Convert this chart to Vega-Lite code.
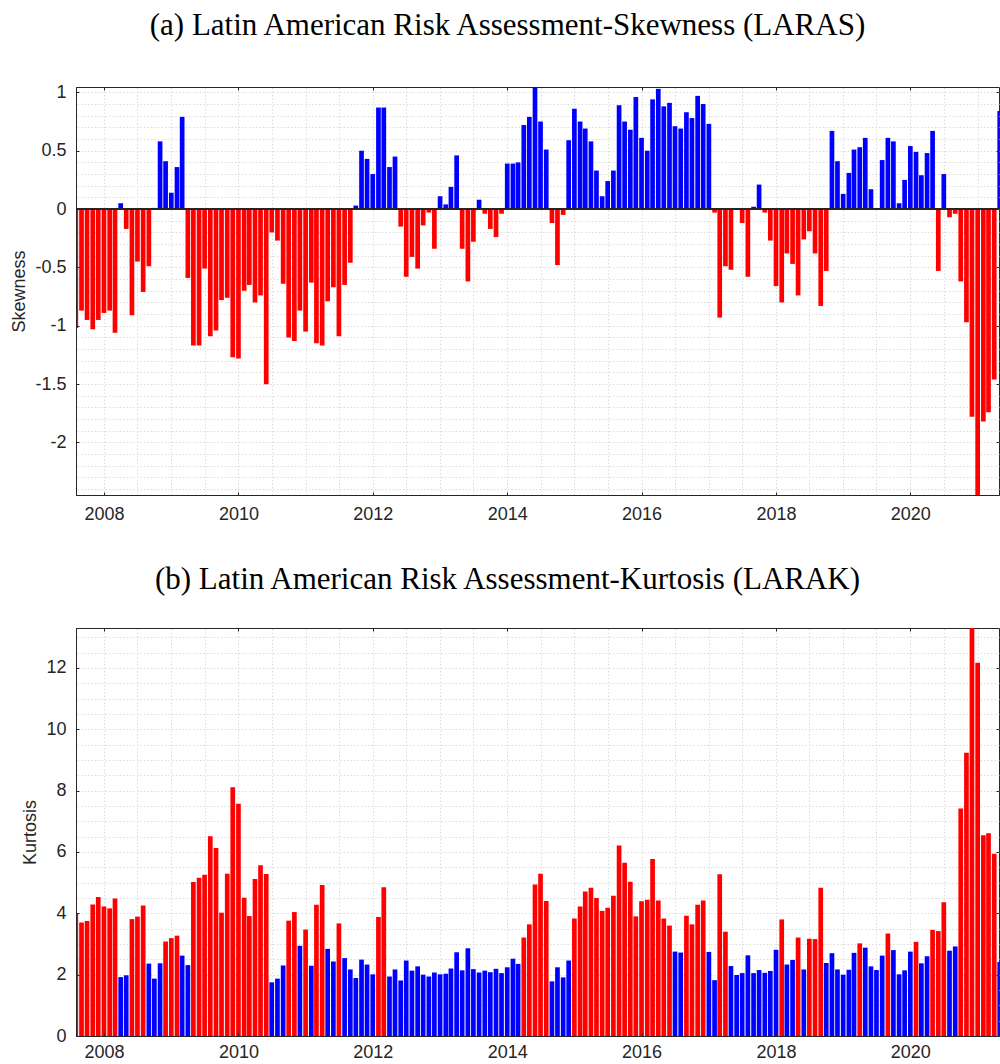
{
  "$schema": "https://vega.github.io/schema/vega-lite/v6.json",
  "background": "white",
  "padding": {"left": 10, "top": 9, "right": 0, "bottom": 0},
  "spacing": 39,
  "datasets": {
    "risk": [
      {"m": "2007-08-01", "s": -1.02, "k": 3.98},
      {"m": "2007-09-01", "s": -0.87, "k": 3.70},
      {"m": "2007-10-01", "s": -0.95, "k": 3.75},
      {"m": "2007-11-01", "s": -1.03, "k": 4.29},
      {"m": "2007-12-01", "s": -0.95, "k": 4.53},
      {"m": "2008-01-01", "s": -0.89, "k": 4.22},
      {"m": "2008-02-01", "s": -0.87, "k": 4.16},
      {"m": "2008-03-01", "s": -1.06, "k": 4.48},
      {"m": "2008-04-01", "s": 0.05, "k": 1.92},
      {"m": "2008-05-01", "s": -0.17, "k": 1.98},
      {"m": "2008-06-01", "s": -0.91, "k": 3.81},
      {"m": "2008-07-01", "s": -0.45, "k": 3.89},
      {"m": "2008-08-01", "s": -0.71, "k": 4.25},
      {"m": "2008-09-01", "s": -0.49, "k": 2.36},
      {"m": "2008-10-01", "s": 0.01, "k": 1.87},
      {"m": "2008-11-01", "s": 0.58, "k": 2.37},
      {"m": "2008-12-01", "s": 0.41, "k": 3.08},
      {"m": "2009-01-01", "s": 0.14, "k": 3.19},
      {"m": "2009-02-01", "s": 0.36, "k": 3.27},
      {"m": "2009-03-01", "s": 0.79, "k": 2.62},
      {"m": "2009-04-01", "s": -0.59, "k": 2.31},
      {"m": "2009-05-01", "s": -1.17, "k": 5.02},
      {"m": "2009-06-01", "s": -1.17, "k": 5.16},
      {"m": "2009-07-01", "s": -0.51, "k": 5.26},
      {"m": "2009-08-01", "s": -1.09, "k": 6.51},
      {"m": "2009-09-01", "s": -1.04, "k": 6.13},
      {"m": "2009-10-01", "s": -0.78, "k": 4.02},
      {"m": "2009-11-01", "s": -0.76, "k": 5.29},
      {"m": "2009-12-01", "s": -1.27, "k": 8.11},
      {"m": "2010-01-01", "s": -1.28, "k": 7.57},
      {"m": "2010-02-01", "s": -0.70, "k": 4.51},
      {"m": "2010-03-01", "s": -0.65, "k": 3.91},
      {"m": "2010-04-01", "s": -0.80, "k": 5.12},
      {"m": "2010-05-01", "s": -0.74, "k": 5.57},
      {"m": "2010-06-01", "s": -1.50, "k": 5.28},
      {"m": "2010-07-01", "s": -0.20, "k": 1.75},
      {"m": "2010-08-01", "s": -0.27, "k": 1.87},
      {"m": "2010-09-01", "s": -0.64, "k": 2.30},
      {"m": "2010-10-01", "s": -1.10, "k": 3.76},
      {"m": "2010-11-01", "s": -1.13, "k": 4.04},
      {"m": "2010-12-01", "s": -0.87, "k": 2.94},
      {"m": "2011-01-01", "s": -1.05, "k": 3.47},
      {"m": "2011-02-01", "s": -0.63, "k": 2.29},
      {"m": "2011-03-01", "s": -1.15, "k": 4.28},
      {"m": "2011-04-01", "s": -1.17, "k": 4.92},
      {"m": "2011-05-01", "s": -0.79, "k": 2.84},
      {"m": "2011-06-01", "s": -0.67, "k": 2.43},
      {"m": "2011-07-01", "s": -1.09, "k": 3.67},
      {"m": "2011-08-01", "s": -0.65, "k": 2.54},
      {"m": "2011-09-01", "s": -0.46, "k": 2.17},
      {"m": "2011-10-01", "s": 0.03, "k": 1.89},
      {"m": "2011-11-01", "s": 0.50, "k": 2.49},
      {"m": "2011-12-01", "s": 0.43, "k": 2.33},
      {"m": "2012-01-01", "s": 0.30, "k": 2.01},
      {"m": "2012-02-01", "s": 0.87, "k": 3.88},
      {"m": "2012-03-01", "s": 0.87, "k": 4.85},
      {"m": "2012-04-01", "s": 0.36, "k": 1.94},
      {"m": "2012-05-01", "s": 0.45, "k": 2.17},
      {"m": "2012-06-01", "s": -0.15, "k": 1.81},
      {"m": "2012-07-01", "s": -0.58, "k": 2.46},
      {"m": "2012-08-01", "s": -0.41, "k": 2.13},
      {"m": "2012-09-01", "s": -0.51, "k": 2.27},
      {"m": "2012-10-01", "s": -0.14, "k": 2.00},
      {"m": "2012-11-01", "s": -0.03, "k": 1.94},
      {"m": "2012-12-01", "s": -0.34, "k": 2.07},
      {"m": "2013-01-01", "s": 0.11, "k": 2.01},
      {"m": "2013-02-01", "s": 0.04, "k": 2.03},
      {"m": "2013-03-01", "s": 0.19, "k": 2.20},
      {"m": "2013-04-01", "s": 0.46, "k": 2.73},
      {"m": "2013-05-01", "s": -0.34, "k": 2.14},
      {"m": "2013-06-01", "s": -0.62, "k": 2.86},
      {"m": "2013-07-01", "s": -0.28, "k": 2.18},
      {"m": "2013-08-01", "s": 0.08, "k": 2.07},
      {"m": "2013-09-01", "s": -0.04, "k": 2.13},
      {"m": "2013-10-01", "s": -0.17, "k": 2.08},
      {"m": "2013-11-01", "s": -0.24, "k": 2.19},
      {"m": "2013-12-01", "s": -0.04, "k": 2.05},
      {"m": "2014-01-01", "s": 0.39, "k": 2.24},
      {"m": "2014-02-01", "s": 0.39, "k": 2.52},
      {"m": "2014-03-01", "s": 0.40, "k": 2.35},
      {"m": "2014-04-01", "s": 0.72, "k": 3.21},
      {"m": "2014-05-01", "s": 0.79, "k": 3.64},
      {"m": "2014-06-01", "s": 1.046, "k": 4.94},
      {"m": "2014-07-01", "s": 0.75, "k": 5.29},
      {"m": "2014-08-01", "s": 0.51, "k": 4.40},
      {"m": "2014-09-01", "s": -0.12, "k": 1.78},
      {"m": "2014-10-01", "s": -0.48, "k": 2.24},
      {"m": "2014-11-01", "s": -0.05, "k": 1.91},
      {"m": "2014-12-01", "s": 0.59, "k": 2.46},
      {"m": "2015-01-01", "s": 0.86, "k": 3.83},
      {"m": "2015-02-01", "s": 0.75, "k": 4.22},
      {"m": "2015-03-01", "s": 0.69, "k": 4.71},
      {"m": "2015-04-01", "s": 0.58, "k": 4.83},
      {"m": "2015-05-01", "s": 0.33, "k": 4.50},
      {"m": "2015-06-01", "s": 0.11, "k": 4.08},
      {"m": "2015-07-01", "s": 0.24, "k": 4.18},
      {"m": "2015-08-01", "s": 0.33, "k": 4.57},
      {"m": "2015-09-01", "s": 0.89, "k": 6.21},
      {"m": "2015-10-01", "s": 0.75, "k": 5.65},
      {"m": "2015-11-01", "s": 0.68, "k": 5.03},
      {"m": "2015-12-01", "s": 0.96, "k": 3.90},
      {"m": "2016-01-01", "s": 0.61, "k": 4.39},
      {"m": "2016-02-01", "s": 0.50, "k": 4.44},
      {"m": "2016-03-01", "s": 0.94, "k": 5.77},
      {"m": "2016-04-01", "s": 1.03, "k": 4.42},
      {"m": "2016-05-01", "s": 0.88, "k": 3.83},
      {"m": "2016-06-01", "s": 0.91, "k": 3.60},
      {"m": "2016-07-01", "s": 0.71, "k": 2.75},
      {"m": "2016-08-01", "s": 0.69, "k": 2.72},
      {"m": "2016-09-01", "s": 0.83, "k": 3.92},
      {"m": "2016-10-01", "s": 0.78, "k": 3.64},
      {"m": "2016-11-01", "s": 0.97, "k": 4.28},
      {"m": "2016-12-01", "s": 0.90, "k": 4.42},
      {"m": "2017-01-01", "s": 0.73, "k": 2.74},
      {"m": "2017-02-01", "s": -0.03, "k": 1.82},
      {"m": "2017-03-01", "s": -0.93, "k": 5.27},
      {"m": "2017-04-01", "s": -0.49, "k": 3.40},
      {"m": "2017-05-01", "s": -0.52, "k": 2.28},
      {"m": "2017-06-01", "s": 0.00, "k": 1.99},
      {"m": "2017-07-01", "s": -0.12, "k": 2.05},
      {"m": "2017-08-01", "s": -0.58, "k": 2.63},
      {"m": "2017-09-01", "s": 0.02, "k": 2.05},
      {"m": "2017-10-01", "s": 0.21, "k": 2.15},
      {"m": "2017-11-01", "s": -0.03, "k": 2.06},
      {"m": "2017-12-01", "s": -0.27, "k": 2.12},
      {"m": "2018-01-01", "s": -0.66, "k": 2.81},
      {"m": "2018-02-01", "s": -0.80, "k": 3.80},
      {"m": "2018-03-01", "s": -0.38, "k": 2.33},
      {"m": "2018-04-01", "s": -0.47, "k": 2.48},
      {"m": "2018-05-01", "s": -0.74, "k": 3.21},
      {"m": "2018-06-01", "s": -0.26, "k": 2.17},
      {"m": "2018-07-01", "s": -0.19, "k": 3.17},
      {"m": "2018-08-01", "s": -0.38, "k": 3.16},
      {"m": "2018-09-01", "s": -0.83, "k": 4.83},
      {"m": "2018-10-01", "s": -0.53, "k": 2.38},
      {"m": "2018-11-01", "s": 0.67, "k": 2.70},
      {"m": "2018-12-01", "s": 0.41, "k": 2.17},
      {"m": "2019-01-01", "s": 0.13, "k": 2.00},
      {"m": "2019-02-01", "s": 0.31, "k": 2.16},
      {"m": "2019-03-01", "s": 0.51, "k": 2.71},
      {"m": "2019-04-01", "s": 0.53, "k": 3.02},
      {"m": "2019-05-01", "s": 0.61, "k": 2.88},
      {"m": "2019-06-01", "s": 0.17, "k": 2.27},
      {"m": "2019-07-01", "s": -0.005, "k": 2.15},
      {"m": "2019-08-01", "s": 0.42, "k": 2.62},
      {"m": "2019-09-01", "s": 0.61, "k": 3.34},
      {"m": "2019-10-01", "s": 0.58, "k": 2.80},
      {"m": "2019-11-01", "s": 0.05, "k": 2.01},
      {"m": "2019-12-01", "s": 0.25, "k": 2.14},
      {"m": "2020-01-01", "s": 0.54, "k": 2.75},
      {"m": "2020-02-01", "s": 0.49, "k": 3.07},
      {"m": "2020-03-01", "s": 0.29, "k": 2.37},
      {"m": "2020-04-01", "s": 0.48, "k": 2.60},
      {"m": "2020-05-01", "s": 0.67, "k": 3.46},
      {"m": "2020-06-01", "s": -0.53, "k": 3.42},
      {"m": "2020-07-01", "s": 0.30, "k": 4.36},
      {"m": "2020-08-01", "s": -0.07, "k": 2.78},
      {"m": "2020-09-01", "s": -0.04, "k": 2.92},
      {"m": "2020-10-01", "s": -0.62, "k": 7.42},
      {"m": "2020-11-01", "s": -0.97, "k": 9.23},
      {"m": "2020-12-01", "s": -1.78, "k": 13.30},
      {"m": "2021-01-01", "s": -2.45, "k": 12.17},
      {"m": "2021-02-01", "s": -1.82, "k": 6.54},
      {"m": "2021-03-01", "s": -1.74, "k": 6.61},
      {"m": "2021-04-01", "s": -1.46, "k": 5.94},
      {"m": "2021-05-01", "s": 0.84, "k": 2.41}
    ]
  },
  "data": {"name": "risk"},
  "config": {
    "view": {"stroke": "#262626", "strokeWidth": 1},
    "axis": {
      "labelFont": "Liberation Sans",
      "labelFontSize": 18,
      "labelColor": "#262626",
      "titleFont": "Liberation Sans",
      "titleFontSize": 18,
      "titleFontWeight": "normal",
      "titleColor": "#262626",
      "tickColor": "#262626",
      "tickWidth": 1,
      "domainColor": "#262626",
      "gridColor": "#dcdcdc",
      "gridDash": [1.5, 2],
      "gridWidth": 1,
      "labelOverlap": false
    },
    "title": {"font": "Liberation Serif", "fontSize": 31, "fontWeight": "normal", "color": "#000000"}
  },
  "vconcat": [
    {
      "width": 923,
      "height": 408,
      "title": {"text": "(a) Latin American Risk Assessment-Skewness (LARAS)", "offset": 17, "baseline": "alphabetic", "dx": -30, "frame": "group", "anchor": "middle"},
      "layer": [
        {
          "mark": {"type": "point", "opacity": 0},
          "encoding": {
            "x": {
              "field": "m", "type": "temporal",
              "scale": {"type": "utc", "padding": 0, "domain": [{"year": 2007, "month": 8, "date": 2, "utc": true}, {"year": 2021, "month": 4, "date": 27, "utc": true}]},
              "axis": {
                "orient": "top", "title": null, "labels": false, "domain": false, "grid": true, "zindex": 0,
                "tickSize": -3,
                "tickOpacity": {"condition": {"test": "utcmonth(datum.value) == 0 && utcyear(datum.value) % 2 == 0", "value": 1}, "value": 0},
                "values": [
                  {"year": 2008, "month": 1, "date": 1, "utc": true}, {"year": 2008, "month": 7, "date": 1, "utc": true},
                  {"year": 2009, "month": 1, "date": 1, "utc": true}, {"year": 2009, "month": 7, "date": 1, "utc": true},
                  {"year": 2010, "month": 1, "date": 1, "utc": true}, {"year": 2010, "month": 7, "date": 1, "utc": true},
                  {"year": 2011, "month": 1, "date": 1, "utc": true}, {"year": 2011, "month": 7, "date": 1, "utc": true},
                  {"year": 2012, "month": 1, "date": 1, "utc": true}, {"year": 2012, "month": 7, "date": 1, "utc": true},
                  {"year": 2013, "month": 1, "date": 1, "utc": true}, {"year": 2013, "month": 7, "date": 1, "utc": true},
                  {"year": 2014, "month": 1, "date": 1, "utc": true}, {"year": 2014, "month": 7, "date": 1, "utc": true},
                  {"year": 2015, "month": 1, "date": 1, "utc": true}, {"year": 2015, "month": 7, "date": 1, "utc": true},
                  {"year": 2016, "month": 1, "date": 1, "utc": true}, {"year": 2016, "month": 7, "date": 1, "utc": true},
                  {"year": 2017, "month": 1, "date": 1, "utc": true}, {"year": 2017, "month": 7, "date": 1, "utc": true},
                  {"year": 2018, "month": 1, "date": 1, "utc": true}, {"year": 2018, "month": 7, "date": 1, "utc": true},
                  {"year": 2019, "month": 1, "date": 1, "utc": true}, {"year": 2019, "month": 7, "date": 1, "utc": true},
                  {"year": 2020, "month": 1, "date": 1, "utc": true}, {"year": 2020, "month": 7, "date": 1, "utc": true},
                  {"year": 2021, "month": 1, "date": 1, "utc": true}
                ]
              }
            },
            "y": {
              "field": "s", "type": "quantitative",
              "scale": {"domain": [-2.45, 1.046], "nice": false, "zero": false},
              "axis": {
                "orient": "right", "title": null, "labels": false, "domain": false, "grid": true, "zindex": 0,
                "tickSize": -3,
                "tickOpacity": {"condition": {"test": "abs(datum.value * 2 - round(datum.value * 2)) < 0.001", "value": 1}, "value": 0},
                "values": [-2.4, -2.3, -2.2, -2.1, -2, -1.9, -1.8, -1.7, -1.6, -1.5, -1.4, -1.3, -1.2, -1.1, -1, -0.9, -0.8, -0.7, -0.6, -0.5, -0.4, -0.3, -0.2, -0.1, 0, 0.1, 0.2, 0.3, 0.4, 0.5, 0.6, 0.7, 0.8, 0.9, 1]
              }
            }
          }
        },
        {
          "mark": {"type": "bar", "width": 4.7, "clip": true},
          "encoding": {
            "x": {
              "field": "m", "type": "temporal",
              "axis": {
                "orient": "bottom", "title": null, "grid": false, "zindex": 1, "format": "%Y",
                "tickSize": -3, "labelPadding": 13,
                "values": [
                  {"year": 2008, "month": 1, "date": 1, "utc": true}, {"year": 2010, "month": 1, "date": 1, "utc": true},
                  {"year": 2012, "month": 1, "date": 1, "utc": true}, {"year": 2014, "month": 1, "date": 1, "utc": true},
                  {"year": 2016, "month": 1, "date": 1, "utc": true}, {"year": 2018, "month": 1, "date": 1, "utc": true},
                  {"year": 2020, "month": 1, "date": 1, "utc": true}
                ]
              }
            },
            "y": {
              "field": "s", "type": "quantitative",
              "axis": {
                "orient": "left", "title": "Skewness", "grid": false, "zindex": 1,
                "tickSize": -3, "labelPadding": 13, "titlePadding": 6,
                "values": [-2, -1.5, -1, -0.5, 0, 0.5, 1],
                "labelExpr": "'' + datum.value"
              }
            },
            "color": {"condition": {"test": "datum.s < 0", "value": "#ff0000"}, "value": "#0000ff"}
          }
        },
        {
          "mark": {"type": "rule", "color": "#262626", "strokeWidth": 1},
          "encoding": {"y": {"datum": 0, "type": "quantitative", "axis": null}}
        }
      ],
      "resolve": {"axis": {"x": "independent", "y": "independent"}}
    },
    {
      "width": 923,
      "height": 408,
      "title": {"text": "(b) Latin American Risk Assessment-Kurtosis (LARAK)", "offset": 5, "baseline": "alphabetic", "dx": -30, "frame": "group", "anchor": "middle"},
      "layer": [
        {
          "mark": {"type": "point", "opacity": 0},
          "encoding": {
            "x": {
              "field": "m", "type": "temporal",
              "scale": {"type": "utc", "padding": 0, "domain": [{"year": 2007, "month": 8, "date": 2, "utc": true}, {"year": 2021, "month": 4, "date": 27, "utc": true}]},
              "axis": {
                "orient": "top", "title": null, "labels": false, "domain": false, "grid": true, "zindex": 0,
                "tickSize": -3,
                "tickOpacity": {"condition": {"test": "utcmonth(datum.value) == 0 && utcyear(datum.value) % 2 == 0", "value": 1}, "value": 0},
                "values": [
                  {"year": 2008, "month": 1, "date": 1, "utc": true}, {"year": 2008, "month": 7, "date": 1, "utc": true},
                  {"year": 2009, "month": 1, "date": 1, "utc": true}, {"year": 2009, "month": 7, "date": 1, "utc": true},
                  {"year": 2010, "month": 1, "date": 1, "utc": true}, {"year": 2010, "month": 7, "date": 1, "utc": true},
                  {"year": 2011, "month": 1, "date": 1, "utc": true}, {"year": 2011, "month": 7, "date": 1, "utc": true},
                  {"year": 2012, "month": 1, "date": 1, "utc": true}, {"year": 2012, "month": 7, "date": 1, "utc": true},
                  {"year": 2013, "month": 1, "date": 1, "utc": true}, {"year": 2013, "month": 7, "date": 1, "utc": true},
                  {"year": 2014, "month": 1, "date": 1, "utc": true}, {"year": 2014, "month": 7, "date": 1, "utc": true},
                  {"year": 2015, "month": 1, "date": 1, "utc": true}, {"year": 2015, "month": 7, "date": 1, "utc": true},
                  {"year": 2016, "month": 1, "date": 1, "utc": true}, {"year": 2016, "month": 7, "date": 1, "utc": true},
                  {"year": 2017, "month": 1, "date": 1, "utc": true}, {"year": 2017, "month": 7, "date": 1, "utc": true},
                  {"year": 2018, "month": 1, "date": 1, "utc": true}, {"year": 2018, "month": 7, "date": 1, "utc": true},
                  {"year": 2019, "month": 1, "date": 1, "utc": true}, {"year": 2019, "month": 7, "date": 1, "utc": true},
                  {"year": 2020, "month": 1, "date": 1, "utc": true}, {"year": 2020, "month": 7, "date": 1, "utc": true},
                  {"year": 2021, "month": 1, "date": 1, "utc": true}
                ]
              }
            },
            "y": {
              "field": "k", "type": "quantitative",
              "scale": {"domain": [0, 13.3], "nice": false},
              "axis": {
                "orient": "right", "title": null, "labels": false, "domain": false, "grid": true, "zindex": 0,
                "tickSize": -3,
                "tickOpacity": {"condition": {"test": "datum.value % 2 == 0", "value": 1}, "value": 0},
                "values": [0, 0.5, 1, 1.5, 2, 2.5, 3, 3.5, 4, 4.5, 5, 5.5, 6, 6.5, 7, 7.5, 8, 8.5, 9, 9.5, 10, 10.5, 11, 11.5, 12, 12.5, 13]
              }
            }
          }
        },
        {
          "mark": {"type": "bar", "width": 4.7, "clip": true},
          "encoding": {
            "x": {
              "field": "m", "type": "temporal",
              "axis": {
                "orient": "bottom", "title": null, "grid": false, "zindex": 1, "format": "%Y",
                "tickSize": -3, "labelPadding": 10,
                "values": [
                  {"year": 2008, "month": 1, "date": 1, "utc": true}, {"year": 2010, "month": 1, "date": 1, "utc": true},
                  {"year": 2012, "month": 1, "date": 1, "utc": true}, {"year": 2014, "month": 1, "date": 1, "utc": true},
                  {"year": 2016, "month": 1, "date": 1, "utc": true}, {"year": 2018, "month": 1, "date": 1, "utc": true},
                  {"year": 2020, "month": 1, "date": 1, "utc": true}
                ]
              }
            },
            "y": {
              "field": "k", "type": "quantitative",
              "axis": {
                "orient": "left", "title": "Kurtosis", "grid": false, "zindex": 1,
                "tickSize": -3, "labelPadding": 13, "titlePadding": 6,
                "values": [0, 2, 4, 6, 8, 10, 12],
                "labelExpr": "'' + datum.value"
              }
            },
            "color": {"condition": {"test": "datum.k > 3", "value": "#ff0000"}, "value": "#0000ff"}
          }
        }
      ],
      "resolve": {"axis": {"x": "independent", "y": "independent"}}
    }
  ]
}
